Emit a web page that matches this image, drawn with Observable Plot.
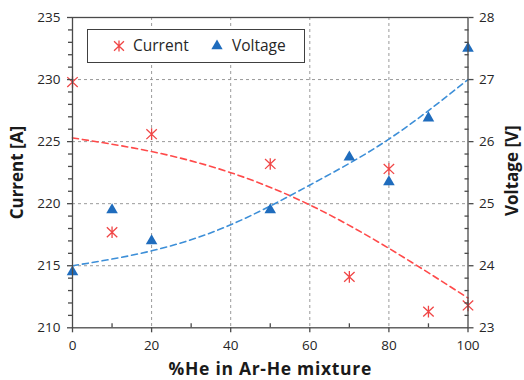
<!DOCTYPE html>
<html>
<head>
<meta charset="utf-8">
<script src="https://cdn.jsdelivr.net/npm/d3@7"></script>
<script src="https://cdn.jsdelivr.net/npm/@observablehq/plot@0.6"></script>
<style>
  html, body { margin: 0; padding: 0; background: #fff; }
  #wrap { position: relative; width: 524px; height: 380px; overflow: hidden; font-family: "Open Sans", sans-serif; }
  #legend {
    position: absolute; left: 87px; top: 29px; width: 216px; height: 32px;
    border: 1.3px solid #404040; background: #fff;
    font-size: 15.5px; color: #262626;
  }
  #legend .sym { position: absolute; top: 9px; display: block; }
  #legend .lab { position: absolute; top: 5px; line-height: 21px; white-space: nowrap; }
</style>
</head>
<body>
<div id="wrap"><div id="legend"></div></div>
<script>
// %He in the Ar-He shielding gas
const pctHe = [0, 10, 20, 50, 70, 80, 90, 100];
// Measured arc current [A]
const current = [229.8, 217.7, 225.6, 223.2, 214.1, 222.8, 211.3, 211.8];
// Measured arc voltage [V]
const voltage = [23.9, 24.9, 24.4, 24.9, 25.75, 25.35, 26.38, 27.5];

// Second-order trend lines, sampled along the x axis
const trendHe = [0, 20, 40, 60, 80, 100];
const currentTrend = [225.3, 224.2, 222.5, 219.9, 216.4, 212.4];
const voltageTrend = [24.0, 24.24, 24.66, 25.3, 26.04, 27.0];

// Axis ticks
const xTicks = [0, 20, 40, 60, 80, 100];
const xMinor = [10, 30, 50, 70, 90];
const currentTicks = [210, 215, 220, 225, 230, 235];
const voltageTicks = [23, 24, 25, 26, 27, 28];

const redColor = "#f04646";
const redLine = "#ff4a4a";
const blueColor = "#1f6cbd";
const blueLine = "#3d8fd8";
const axisColor = "#4a4a4a";
const textColor = "#262626";

// The voltage axis shares the plot height with the current axis
const cDomain = [currentTicks[0], currentTicks[currentTicks.length - 1]];
const vDomain = [voltageTicks[0], voltageTicks[voltageTicks.length - 1]];
const vToC = v => cDomain[0] + (v - vDomain[0]) * (cDomain[1] - cDomain[0]) / (vDomain[1] - vDomain[0]);
const cToV = c => vDomain[0] + (c - cDomain[0]) * (vDomain[1] - vDomain[0]) / (cDomain[1] - cDomain[0]);

const currentMinor = d3.range(cDomain[0], cDomain[1] + 0.001, 1).filter(d => !currentTicks.includes(d));
const voltageMinor = d3.range(vDomain[0], vDomain[1] + 0.001, 0.2)
  .map(d => +d.toFixed(1)).filter(d => !voltageTicks.includes(d));

const points = pctHe.map((x, i) => ({x, current: current[i], voltage: voltage[i]}));
const trend = trendHe.map((x, i) => ({x, current: currentTrend[i], voltage: voltageTrend[i]}));

// Excel-style asterisk: an X crossed by a vertical stroke
const asterisk = {
  draw(context, size) {
    const r = Math.sqrt(size / Math.PI);
    const a = r * 0.9;
    context.moveTo(0, -r); context.lineTo(0, r);
    context.moveTo(-a, -r * 0.85); context.lineTo(a, r * 0.85);
    context.moveTo(-a, r * 0.85); context.lineTo(a, -r * 0.85);
  }
};

const blank = () => "";
const xTitle = "%He in Ar-He mixture";

const chart = Plot.plot({
  width: 524,
  height: 380,
  marginLeft: 72,
  marginRight: 56.5,
  marginTop: 17,
  marginBottom: 52.7,
  x: {domain: [0, 100]},
  y: {domain: cDomain},
  style: {fontFamily: "'Open Sans', sans-serif", fontSize: "13.5px", color: textColor, background: "#fff"},
  marks: [
    Plot.gridX(xTicks.slice(1, -1), {stroke: "#9a9a9a", strokeOpacity: 1, strokeDasharray: "3,3"}),
    Plot.gridY(currentTicks.slice(1, -1), {stroke: "#9a9a9a", strokeOpacity: 1, strokeDasharray: "3,3"}),

    // trend lines
    Plot.line(trend, {x: "x", y: "current", curve: "natural", stroke: redLine, strokeWidth: 1.6, strokeDasharray: "6,4"}),
    Plot.line(trend, {x: "x", y: d => vToC(d.voltage), curve: "natural", stroke: blueLine, strokeWidth: 1.6, strokeDasharray: "6,4"}),

    // measurements
    Plot.dot(points, {x: "x", y: "current", symbol: asterisk, r: 5.8, stroke: redColor, strokeWidth: 1.3, fill: "none"}),
    Plot.dot(points, {x: "x", y: d => vToC(d.voltage), symbol: "triangle", r: 4.3, fill: blueColor, stroke: "none"}),

    Plot.frame({stroke: axisColor, strokeWidth: 1.3}),

    // bottom axis
    Plot.axisX(xTicks, {anchor: "bottom", tickSize: 5, tickPadding: 8, stroke: axisColor, strokeWidth: 1.3, label: null, fill: textColor}),
    Plot.axisX(xMinor, {anchor: "bottom", tickSize: -4, tickFormat: blank, stroke: axisColor, strokeWidth: 1.3, label: null}),

    // left axis: current
    Plot.axisY(currentTicks, {anchor: "left", tickSize: 5, tickPadding: 7, stroke: axisColor, strokeWidth: 1.3, label: null, fill: textColor}),
    Plot.axisY(currentMinor, {anchor: "left", tickSize: 4, tickFormat: blank, stroke: axisColor, strokeWidth: 1.3, label: null}),

    // right axis: voltage
    Plot.axisY(voltageTicks.map(vToC), {anchor: "right", tickSize: 5, tickPadding: 6, tickFormat: c => Math.round(cToV(c)), stroke: axisColor, strokeWidth: 1.3, label: null, fill: textColor}),
    Plot.axisY(voltageMinor.map(vToC), {anchor: "right", tickSize: -4, tickFormat: blank, stroke: axisColor, strokeWidth: 1.3, label: null}),

    // axis titles
    Plot.text([xTitle], {frameAnchor: "bottom", textAnchor: "middle", lineAnchor: "middle", dy: 42, fontSize: 17.5, fontWeight: "bold", fill: "#1a1a1a"}),
    Plot.text(["Current [A]"], {frameAnchor: "left", textAnchor: "middle", lineAnchor: "middle", rotate: -90, dx: -55, fontSize: 17, fontWeight: "bold", fill: "#1a1a1a"}),
    Plot.text(["Voltage [V]"], {frameAnchor: "right", textAnchor: "middle", lineAnchor: "middle", rotate: -90, dx: 45, dy: -2, fontSize: 17, fontWeight: "bold", fill: "#1a1a1a"})
  ]
});

// slightly wider tracking on the x title
d3.select(chart).selectAll("text")
  .filter(function () { return this.textContent === xTitle; })
  .style("letter-spacing", "0.7px");

const wrap = document.getElementById("wrap");
wrap.insertBefore(chart, wrap.firstChild);

// legend
const legend = document.getElementById("legend");
function legendItem(label, drawSymbol, symbolCenter, textLeft) {
  const svg = d3.create("svg").attr("class", "sym").attr("width", 14).attr("height", 14)
    .style("left", (symbolCenter - 7) + "px");
  drawSymbol(svg.append("g").attr("transform", "translate(7,7)"));
  legend.appendChild(svg.node());
  const span = document.createElement("span");
  span.className = "lab";
  span.textContent = label;
  span.style.left = textLeft + "px";
  legend.appendChild(span);
}
legendItem("Current", g => g.append("path")
  .attr("d", () => { const p = d3.path(); asterisk.draw(p, Math.PI * 5.5 * 5.5); return p.toString(); })
  .attr("stroke", redColor).attr("stroke-width", 1.3).attr("fill", "none"), 31, 45);
legendItem("Voltage", g => g.append("path")
  .attr("d", d3.symbol(d3.symbolTriangle, Math.PI * 4.2 * 4.2)())
  .attr("fill", blueColor), 129, 144);
</script>
</body>
</html>
